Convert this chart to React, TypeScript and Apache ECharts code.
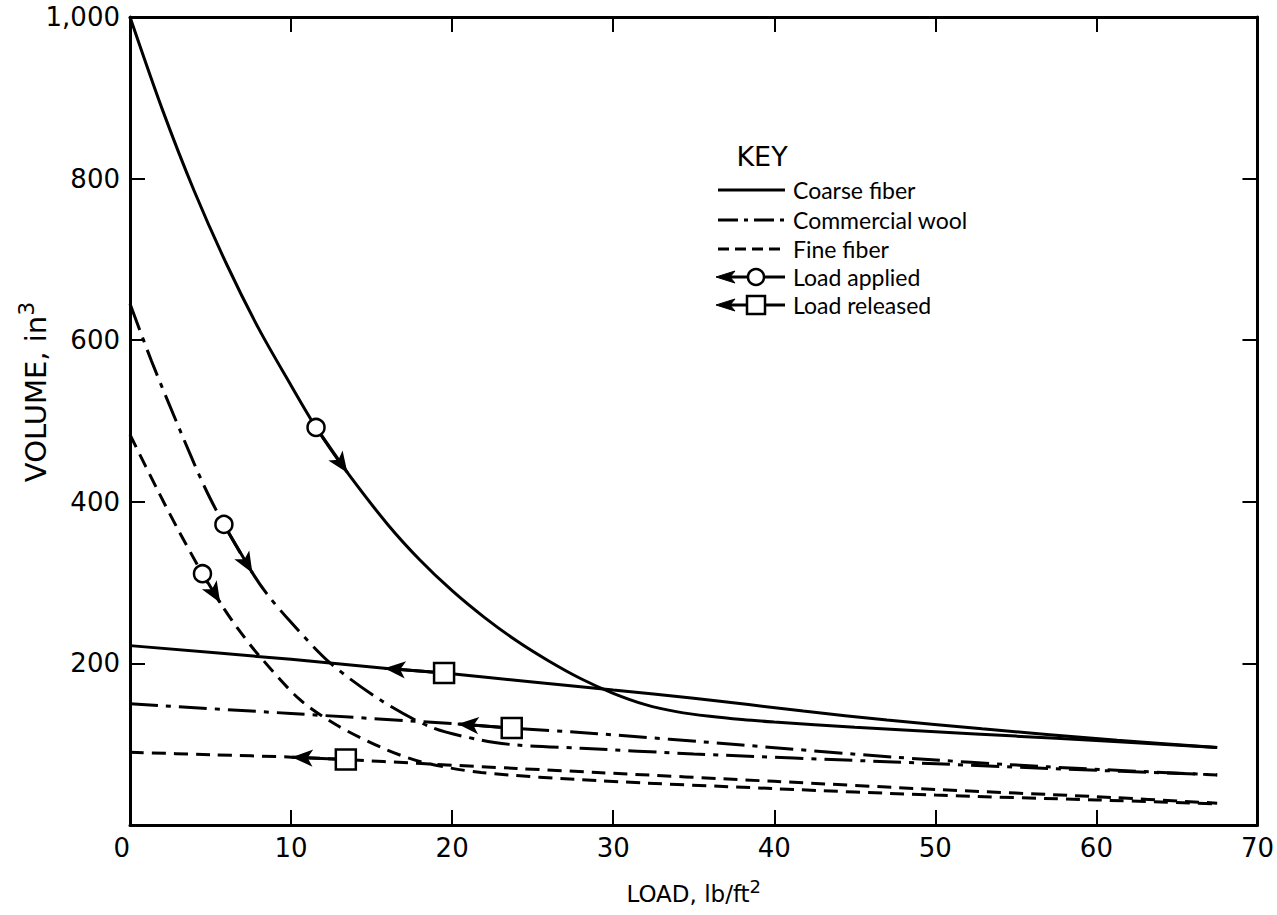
import React, { useEffect, useRef } from 'react';
import * as echarts from 'echarts';

// ---------- data (load lb/ft², volume in³) ----------
const xTickValues = [0, 10, 20, 30, 40, 50, 60, 70];
const yTickValues = [0, 200, 400, 600, 800, 1000];
const yTickLabels = ['', '200', '400', '600', '800', '1,000'];

const coarseLoading: [number, number][] = [
  [0, 1000], [2, 886], [4, 784], [6, 694], [8, 614], [10, 544], [11.55, 492], [13.5, 436],
  [16, 372], [18, 328], [20, 290], [22, 257], [24, 228], [26, 203], [28, 181], [30, 163],
  [32, 149], [34, 140], [36, 134.5], [38, 130.5], [40, 127.5], [45, 121], [50, 115.5],
  [55, 110], [60, 104.5], [67.5, 96],
];
const coarseReleased: [number, number][] = [
  [0, 222], [10, 205], [15.8, 194], [19.5, 188], [25, 177], [30, 167], [35, 157], [41.8, 141],
  [47, 130], [52.9, 119], [61.3, 105], [67.5, 96],
];
const woolLoading: [number, number][] = [
  [0, 645], [1.34, 574], [3.2, 484], [4.64, 418], [5.83, 372], [7.6, 312], [8.5, 286], [9.9, 253],
  [12.4, 201], [15.6, 154], [18.7, 121], [21.8, 105], [24, 99], [28, 95], [35, 88], [47.4, 78],
  [57, 70], [67.5, 62],
];
const woolReleased: [number, number][] = [
  [0, 150], [10, 138], [20.35, 125], [23.7, 120], [29, 113], [38, 99], [47.4, 84], [57, 72],
  [67.5, 62],
];
const fineLoading: [number, number][] = [
  [0, 483], [1.75, 413], [3.0, 365], [4.5, 311], [5.6, 275], [6.7, 243], [8.0, 210], [10.5, 156],
  [12.8, 124], [15.6, 96], [18.1, 78], [21.8, 65], [29, 55], [40, 45], [50, 37], [60, 31],
  [67.5, 26],
];
const fineReleased: [number, number][] = [
  [0, 90], [5, 87], [10.05, 84], [13.4, 81], [18.1, 76], [24, 70], [29, 65], [40, 54], [50, 44],
  [60, 35], [67.5, 27],
];

// markers
const appliedPoints: [number, number][] = [[11.55, 492], [5.83, 372], [4.5, 311]];
const releasedPoints: [number, number][] = [[19.5, 188], [23.7, 120], [13.4, 81]];
const appliedArrows: [number, number][] = [[13.5, 436], [7.6, 312], [5.6, 275]];
const releasedArrows: [number, number][] = [[15.8, 194], [20.35, 125], [10.05, 84]];

const keyLabels = ['Coarse fiber', 'Commercial wool', 'Fine fiber', 'Load applied', 'Load released'];

// ---------- styles ----------
const FONT = 'DejaVu Sans';
const KEY_FONT = 'Lato';
const BLACK = '#000';
const SOLID = 'solid';
const DASH_DOT = [28, 8, 5, 8];
const DASHED = [14, 8];
const ARROW_SIZE = [13, 21];

function curve(name: string, data: [number, number][], type: any, from: [number, number], to: [number, number]) {
  return {
    type: 'line',
    name,
    data,
    smooth: 0.3,
    showSymbol: false,
    symbol: 'none',
    silent: true,
    z: 3,
    itemStyle: { color: BLACK },
    lineStyle: { color: BLACK, width: 3, type },
    emphasis: { disabled: true },
    markLine: {
      silent: true,
      animation: false,
      symbol: ['none', 'arrow'],
      symbolSize: ARROW_SIZE,
      label: { show: false },
      emphasis: { disabled: true },
      lineStyle: { color: BLACK, width: 3, type: 'solid' },
      data: [[
        { coord: from, symbol: 'none' },
        { coord: to, symbol: 'arrow', symbolSize: ARROW_SIZE },
      ]],
    },
  };
}

function buildKey() {
  const els: any[] = [];
  const keyX = 762;
  const keyY = 156;
  const rowYs = [190, 220, 249, 277, 305];
  const lineX1 = 718;
  const lineX2 = 785;
  const textX = 793;
  const dashes: any[] = [null, [20, 6, 4, 6], [11, 6], null, null];
  els.push({
    type: 'text', x: keyX, y: keyY, silent: true,
    style: { text: 'KEY', fontFamily: FONT, fontSize: 27, fill: BLACK, align: 'center', verticalAlign: 'middle' },
  });
  keyLabels.forEach((label, i) => {
    const y = rowYs[i];
    els.push({
      type: 'line', silent: true,
      shape: { x1: i >= 3 ? lineX1 + 4 : lineX1, y1: y, x2: lineX2, y2: y },
      style: { stroke: BLACK, lineWidth: 3, lineDash: dashes[i] || null },
    });
    if (i >= 3) {
      els.push({
        type: 'polygon', silent: true,
        shape: { points: [[lineX1 - 2, y], [lineX1 + 17, y - 6], [lineX1 + 12, y], [lineX1 + 17, y + 6]] },
        style: { fill: BLACK, stroke: BLACK, lineWidth: 1 },
      });
      if (i === 3) {
        els.push({
          type: 'circle', silent: true, z: 10,
          shape: { cx: 756, cy: y, r: 8 },
          style: { fill: '#fff', stroke: BLACK, lineWidth: 2.5 },
        });
      } else {
        els.push({
          type: 'rect', silent: true, z: 10,
          shape: { x: 747, y: y - 9, width: 18, height: 18 },
          style: { fill: '#fff', stroke: BLACK, lineWidth: 2.5 },
        });
      }
    }
    els.push({
      type: 'text', x: textX, y, silent: true,
      style: { text: label, fontFamily: KEY_FONT, fontSize: 23, fill: BLACK, align: 'left', verticalAlign: 'middle' },
    });
  });
  // y axis title
  els.push({
    type: 'text', x: 36, y: 392, rotation: Math.PI / 2, silent: true,
    style: {
      text: '{a|VOLUME, in}{s|3}',
      align: 'center', verticalAlign: 'middle', fill: BLACK,
      rich: {
        a: { fontFamily: FONT, fontSize: 29, fill: BLACK, lineHeight: 42 },
        s: { fontFamily: FONT, fontSize: 22, fill: BLACK, verticalAlign: 'top' },
      },
    },
  });
  return els;
}

function axisLine() {
  return { show: true, onZero: false, lineStyle: { color: BLACK, width: 3 } };
}
function axisTick() {
  return { show: true, inside: true, length: 15, lineStyle: { color: BLACK, width: 2 } };
}

const option: any = {
  animation: false,
  backgroundColor: '#fff',
  grid: { left: 130, right: 17, top: 17, bottom: 90, containLabel: false },
  xAxis: [
    {
      type: 'value', min: 0, max: 70, interval: 10, position: 'bottom',
      axisLine: axisLine(), axisTick: axisTick(), splitLine: { show: false },
      axisLabel: {
        fontFamily: FONT, fontSize: 26, color: BLACK, margin: 10,
        alignMinLabel: 'right', alignMaxLabel: 'center',
        formatter: (v: number) => (xTickValues.includes(v) ? String(v) : ''),
      },
      name: '{a|LOAD, lb/ft}{s|2}', nameLocation: 'middle', nameGap: 52,
      nameTextStyle: {
        color: BLACK,
        rich: {
          a: { fontFamily: FONT, fontSize: 23, color: BLACK, lineHeight: 34 },
          s: { fontFamily: FONT, fontSize: 18, color: BLACK, verticalAlign: 'top' },
        },
      },
    },
    {
      type: 'value', min: 0, max: 70, interval: 10, position: 'top',
      axisLine: axisLine(), axisTick: axisTick(), splitLine: { show: false },
      axisLabel: { show: false },
    },
  ],
  yAxis: [
    {
      type: 'value', min: 0, max: 1000, interval: 200, position: 'left',
      axisLine: axisLine(), axisTick: axisTick(), splitLine: { show: false },
      axisLabel: {
        fontFamily: FONT, fontSize: 26, color: BLACK, margin: 10,
        formatter: (v: number) => {
          const i = yTickValues.indexOf(v);
          return i >= 0 ? yTickLabels[i] : '';
        },
      },
    },
    {
      type: 'value', min: 0, max: 1000, interval: 200, position: 'right',
      axisLine: axisLine(), axisTick: axisTick(), splitLine: { show: false },
      axisLabel: { show: false },
    },
  ],
  series: [
    curve('Coarse fiber, load applied', coarseLoading, SOLID, appliedPoints[0], appliedArrows[0]),
    curve('Coarse fiber, load released', coarseReleased, SOLID, releasedPoints[0], releasedArrows[0]),
    curve('Commercial wool, load applied', woolLoading, DASH_DOT, appliedPoints[1], appliedArrows[1]),
    curve('Commercial wool, load released', woolReleased, DASH_DOT, releasedPoints[1], releasedArrows[1]),
    curve('Fine fiber, load applied', fineLoading, DASHED, appliedPoints[2], appliedArrows[2]),
    curve('Fine fiber, load released', fineReleased, DASHED, releasedPoints[2], releasedArrows[2]),
    {
      type: 'scatter', name: 'Load applied', data: appliedPoints, symbol: 'circle', symbolSize: 17,
      silent: true, z: 10,
      itemStyle: { color: '#fff', borderColor: BLACK, borderWidth: 2.5, opacity: 1 },
      emphasis: { disabled: true },
    },
    {
      type: 'scatter', name: 'Load released', data: releasedPoints, symbol: 'rect', symbolSize: 20,
      silent: true, z: 10,
      itemStyle: { color: '#fff', borderColor: BLACK, borderWidth: 2.5, opacity: 1 },
      emphasis: { disabled: true },
    },
  ],
  graphic: buildKey(),
};

export default function App() {
  const ref = useRef<HTMLDivElement>(null);
  useEffect(() => {
    document.body.style.margin = '0';
    const chart = echarts.init(ref.current as HTMLDivElement, null, { renderer: 'svg' });
    chart.setOption(option);
    return () => chart.dispose();
  }, []);
  return <div ref={ref} style={{ width: 1277, height: 915, background: '#fff' }} />;
}
